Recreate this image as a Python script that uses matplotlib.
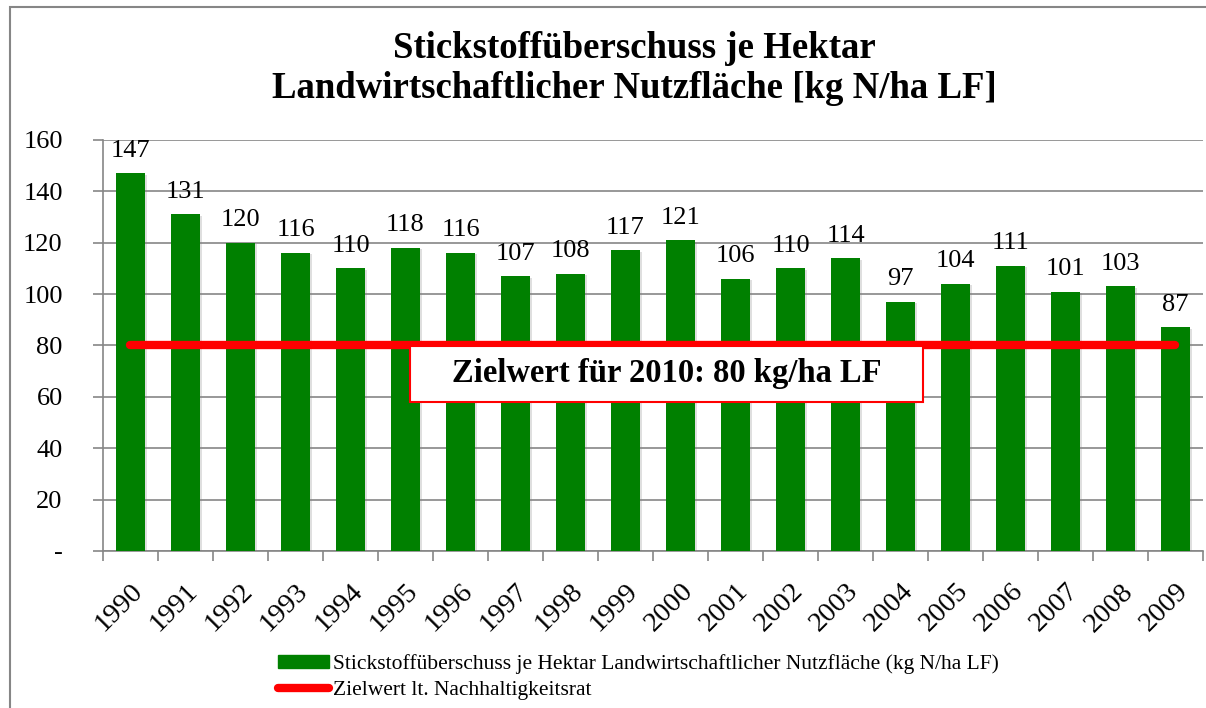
import matplotlib.pyplot as plt
import matplotlib.patches as mpatches
import matplotlib.patheffects as pe
from matplotlib.lines import Line2D
import numpy as np

plt.rcParams['font.family'] = ['Liberation Serif', 'DejaVu Serif']

# data
years = ['1990', '1991', '1992', '1993', '1994', '1995', '1996', '1997', '1998', '1999',
         '2000', '2001', '2002', '2003', '2004', '2005', '2006', '2007', '2008', '2009']
surplus = [147, 131, 120, 116, 110, 118, 116, 107, 108, 117,
           121, 106, 110, 114, 97, 104, 111, 101, 103, 87]
target = 80
yticks = [0, 20, 40, 60, 80, 100, 120, 140, 160]
ytick_labels = ['-', '20', '40', '60', '80', '100', '120', '140', '160']

fig = plt.figure(figsize=(12.06, 7.08), dpi=100)
ax = fig.add_axes([0.0854, 0.2218, 0.9121, 0.5805])

x = np.arange(len(years))
bars = ax.bar(x, surplus, width=0.51, color='#008000', zorder=3)
for b in bars:
    b.set_path_effects([pe.SimplePatchShadow(offset=(2, -1), shadow_rgbFace='gray', alpha=0.25),
                        pe.Normal()])
ax.plot([x[0], x[-1]], [target, target], color='#ff0000', linewidth=6,
        solid_capstyle='round', zorder=4)

for xi, v in zip(x, surplus):
    ax.text(xi, v + 4.5, str(v), ha='center', va='bottom', fontsize=19, zorder=5)

ax.set_xlim(-0.5, len(years) - 0.5)
ax.set_ylim(0, 160)
ax.set_yticks(yticks)
ax.set_yticklabels(ytick_labels, fontsize=19)
ax.set_xticks(x)
ax.set_xticklabels(years, fontsize=20.5, rotation=45, ha='right', va='top',
                   rotation_mode='anchor')
ax.tick_params(axis='x', length=0, pad=20)
ax.set_xticks(np.arange(len(years) + 1) - 0.5, minor=True)
ax.tick_params(axis='x', which='minor', length=7, color='#868686', width=1.2)
ax.tick_params(axis='y', length=7, color='#868686', width=1.2, pad=22)

ax.grid(axis='y', color='#868686', linewidth=1.2, zorder=0)
for side in ['top', 'right']:
    ax.spines[side].set_visible(False)
for side in ['left', 'bottom']:
    ax.spines[side].set_color('#868686')
    ax.spines[side].set_linewidth(1.2)

# target annotation box
ax.add_patch(mpatches.Rectangle((5.08, 58.0), 9.33, 21.8, facecolor='white',
                                edgecolor='#ff0000', linewidth=1.5, zorder=6))
ax.text(9.75, 68.9, 'Zielwert für 2010: 80 kg/ha LF', ha='center', va='center',
        fontsize=23.5, fontweight='bold', zorder=7)

fig.text(0.526, 0.903, 'Stickstoffüberschuss je Hektar\nLandwirtschaftlicher Nutzfläche [kg N/ha LF]',
         ha='center', va='center', fontsize=26.5, fontweight='bold', linespacing=1.2)

handles = [mpatches.Patch(color='#008000'),
           Line2D([0], [0], color='#ff0000', linewidth=6, solid_capstyle='round')]
labels = ['Stickstoffüberschuss je Hektar Landwirtschaftlicher Nutzfläche (kg N/ha LF)',
          'Zielwert lt. Nachhaltigkeitsrat']
fig.legend(handles, labels, loc='upper left', bbox_to_anchor=(0.222, 0.091), frameon=False,
           fontsize=15.5, handlelength=2.35, handleheight=0.55, handletextpad=0.2,
           labelspacing=0.3, borderpad=0)

# outer chart border
fig.add_artist(mpatches.Rectangle((10 / 1206, -0.05), 1.2, 1 - 7 / 708 + 0.05,
                                  transform=fig.transFigure, fill=False,
                                  edgecolor='#868686', linewidth=1.5))

fig.savefig('out.png', dpi=100)
